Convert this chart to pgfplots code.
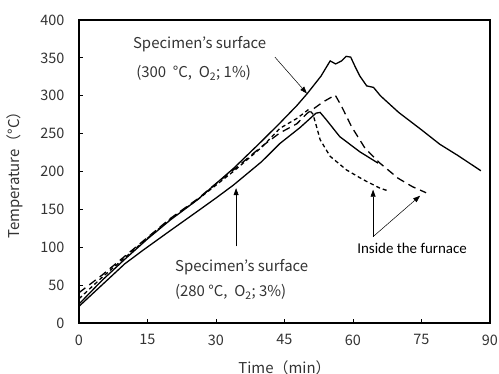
\documentclass[border=0pt]{standalone}
\usepackage{fontspec}
\setmainfont{Noto Sans CJK JP}
\newfontfamily\calibri{Carlito}
\usepackage{pgfplots}
\pgfplotsset{compat=1.18}
\usetikzlibrary{calc,arrows.meta}
\definecolor{txt}{HTML}{333333}
\begin{document}
\begin{tikzpicture}
\begin{axis}[name=ax,
  scale only axis, width=411bp, height=303bp,
  xmin=0, xmax=90, ymin=0, ymax=400,
  xtick={0,15,...,90}, ytick={0,50,...,400},
  axis line style={line width=1.2pt},
  tick align=inside, tick pos=left, major tick length=4bp,
  tick style={line width=1pt, black},
  tick label style={font=\fontsize{14.5}{16}\selectfont, text=txt},
  /pgf/number format/assume math mode=true,
  xticklabel style={yshift=-8bp},
  yticklabel style={xshift=-11bp},
  xlabel={Time（min）}, ylabel={Temperature（°C）},
  label style={font=\fontsize{15}{17}\selectfont, text=txt},
  xlabel style={at={(axis description cs:0.5,0)}, anchor=north, yshift=-34bp},
  ylabel style={at={(axis description cs:0,0.5)}, anchor=south, yshift=53bp},
  clip=false,
]
% Specimen's surface, 300 C
\addplot[black, line width=1.3pt] coordinates {
(0,25)(5,56)(10,84)(15,111)(20,136)(26,163)(30,184)(34,205)(40,240)(44,264)(47.7,287)(50,303)(53,326)(55,346)(56.2,342)(57.5,346)(58.5,352)(59.5,351)(60.5,338)(61.5,326)(63,313)(64.5,311)(66,300)(70,278)(75,255)(79,236)(83,221)(88,201)};
% Specimen's surface, 280 C
\addplot[black, line width=1.3pt] coordinates {
(0,22)(5,50)(10,78)(14,96)(20,122)(26.3,149)(30,165)(33.8,182)(40,213)(44,237)(48.4,258)(51.9,277)(52.8,278)(54.2,268)(57.1,246)(61.5,226)(65.5,211)};
% Inside the furnace, 300 C (long dash)
\addplot[black, line width=1.3pt, dash pattern=on 8bp off 5bp] coordinates {
(0,40)(5,63)(10,88)(15,113)(20,138)(26,164)(30,184)(34,203)(40,233)(44,251)(47.7,263)(50,277)(53.5,292)(56.1,301)(57.5,286)(59.7,259)(62.6,231)(65.9,211)(69.9,191)(73,180)(76,172)};
% Inside the furnace, 280 C (short dash)
\addplot[black, line width=1.3pt, dash pattern=on 4bp off 3bp] coordinates {
(0,32)(5,60)(10,86)(15,112)(20,137)(26,163)(30,182)(34,201)(40,232)(44,257)(47.7,270)(50.3,282)(51.2,276)(51.8,264)(52.8,242)(55,220)(58.6,202)(62.3,189)(65.9,178)(67.4,175)};
% annotations
\node[anchor=west, font=\fontsize{15}{17}\selectfont, text=txt, inner sep=0pt] at (axis cs:11.8,368) {Specimen's surface};
\node[anchor=west, font=\fontsize{15}{17}\selectfont, text=txt, inner sep=0pt] at (axis cs:12.5,330) {(300\ \ °C,\ \ O\textsubscript{2}; 1\%)};
\node[anchor=west, font=\fontsize{15}{17}\selectfont, text=txt, inner sep=0pt] at (axis cs:21,74) {Specimen's surface};
\node[anchor=west, font=\fontsize{15}{17}\selectfont, text=txt, inner sep=0pt] at (axis cs:21,41) {(280 °C,\ \ O\textsubscript{2}; 3\%)};
\node[anchor=west, font=\calibri\fontsize{15}{17}\selectfont, inner sep=0pt] at (axis cs:60.9,98) {Inside the furnace};
\draw[line width=0.5pt, -{Triangle[length=7bp,width=5bp]}] (axis cs:42.9,351) -- (axis cs:49.9,303);
\draw[line width=0.5pt, -{Triangle[length=7bp,width=5bp]}] (axis cs:34.4,101) -- (axis cs:34.4,178);
\draw[line width=0.5pt, -{Triangle[length=7bp,width=5bp]}] (axis cs:64.4,114) -- (axis cs:64.4,176);
\draw[line width=0.5pt, -{Triangle[length=7bp,width=5bp]}] (axis cs:64.4,114) -- (axis cs:74.7,168);
\end{axis}
\pgfresetboundingbox
\path ($(ax.south west)+(-79bp,-51bp)$) rectangle ($(ax.north east)+(9bp,20bp)$);
\end{tikzpicture}
\end{document}
